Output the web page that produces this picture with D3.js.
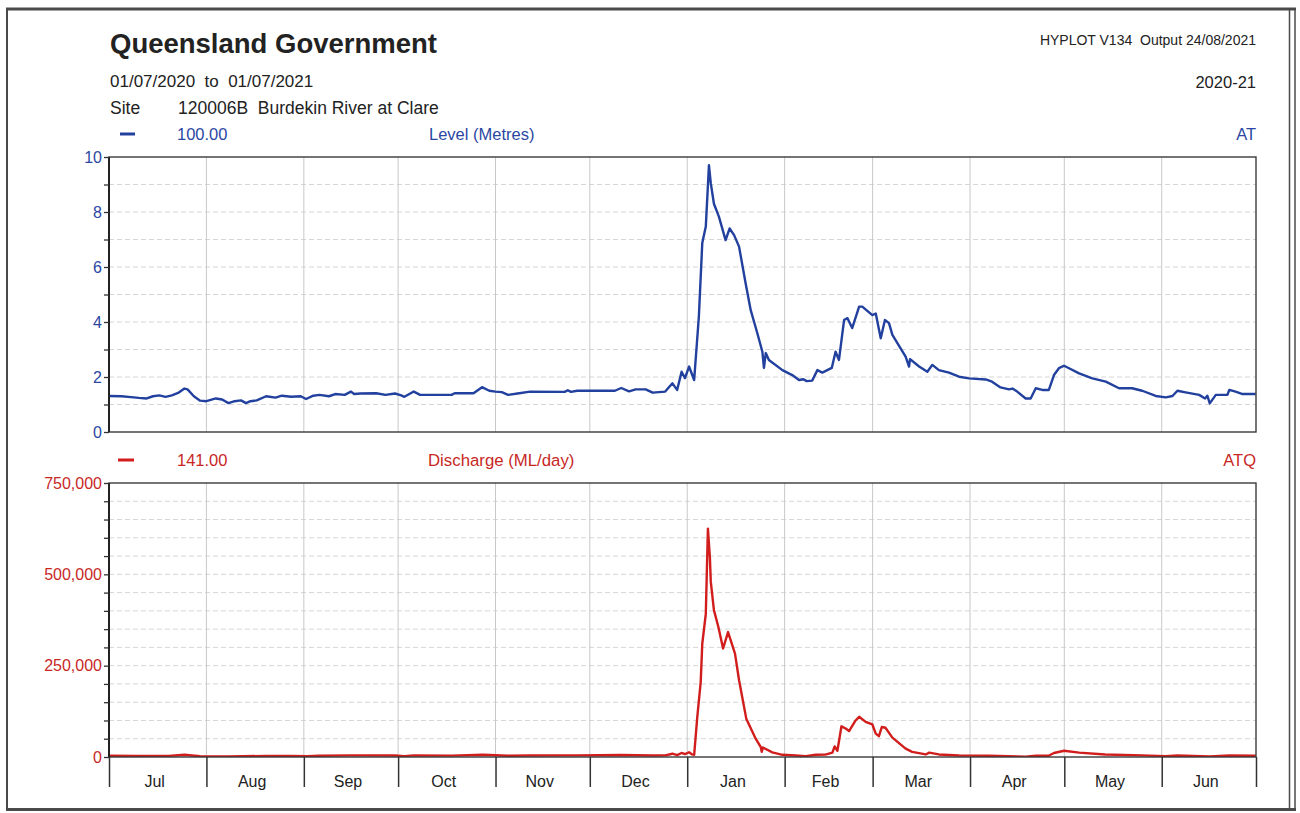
<!DOCTYPE html>
<html>
<head>
<meta charset="utf-8">
<script src="https://cdn.jsdelivr.net/npm/d3@7"></script>
<style>
  body { margin: 0; background: #fff; }
  svg { display: block; font-family: "Liberation Sans", Arial, sans-serif; }
</style>
</head>
<body>
<svg id="chart" width="1300" height="813"></svg>
<script>
// Water level at gauge 120006B (metres), [timestamp, value]
const levelReadings = [
  ["2020-07-01",1.31],["2020-07-05",1.30],["2020-07-08",1.27],["2020-07-10 12",1.24],["2020-07-13",1.22],
  ["2020-07-15",1.30],["2020-07-17",1.33],["2020-07-19",1.28],["2020-07-21",1.33],["2020-07-23",1.42],
  ["2020-07-25",1.58],["2020-07-26",1.55],["2020-07-28",1.30],["2020-07-30",1.14],
  ["2020-08-01",1.12],["2020-08-04",1.22],["2020-08-06",1.18],["2020-08-08",1.05],["2020-08-10",1.12],
  ["2020-08-12",1.15],["2020-08-13 14",1.05],["2020-08-15",1.12],["2020-08-17",1.15],["2020-08-20",1.30],
  ["2020-08-23",1.25],["2020-08-25",1.32],["2020-08-28",1.28],["2020-08-31",1.30],
  ["2020-09-01 17",1.20],["2020-09-04",1.32],["2020-09-06",1.35],["2020-09-09",1.30],["2020-09-11",1.38],
  ["2020-09-14",1.35],["2020-09-16",1.47],["2020-09-17",1.38],["2020-09-19",1.40],["2020-09-24",1.41],
  ["2020-09-27",1.35],["2020-09-30",1.40],
  ["2020-10-02",1.33],["2020-10-03",1.28],["2020-10-06",1.47],["2020-10-08",1.35],["2020-10-18",1.35],
  ["2020-10-19",1.41],["2020-10-25",1.41],["2020-10-27 17",1.63],["2020-10-30",1.50],
  ["2020-11-01",1.47],["2020-11-03",1.45],["2020-11-05",1.35],["2020-11-08",1.40],["2020-11-12",1.47],
  ["2020-11-23",1.46],["2020-11-24",1.52],["2020-11-25",1.46],["2020-11-27",1.50],
  ["2020-12-09",1.50],["2020-12-11",1.60],["2020-12-13 12",1.48],["2020-12-15 14",1.55],["2020-12-18 19",1.55],
  ["2020-12-21",1.43],["2020-12-25",1.47],["2020-12-27 07",1.77],["2020-12-28 19",1.53],["2020-12-30 05",2.19],
  ["2020-12-31 07",1.96],
  ["2021-01-01 14",2.38],["2021-01-03 05",1.89],["2021-01-04 17",4.20],["2021-01-05 19",6.87],["2021-01-06 22",7.47],
  ["2021-01-07 22",9.70],["2021-01-08 12",9.05],["2021-01-09 12",8.30],["2021-01-11 02",7.83],["2021-01-13 05",6.98],
  ["2021-01-14 12",7.40],["2021-01-15 22",7.16],["2021-01-17 12",6.74],["2021-01-19 14",5.41],["2021-01-21 05",4.43],
  ["2021-01-23 07",3.60],["2021-01-24 22",2.92],["2021-01-25 10",2.33],["2021-01-26",2.87],["2021-01-27",2.62],
  ["2021-01-31 07",2.25],
  ["2021-02-03 10",2.07],["2021-02-05 14",1.89],["2021-02-07",1.92],["2021-02-08",1.85],["2021-02-09 19",1.87],
  ["2021-02-11 10",2.25],["2021-02-13",2.16],["2021-02-16",2.33],["2021-02-17 05",2.92],["2021-02-18 07",2.62],
  ["2021-02-19 22",4.07],["2021-02-21",4.14],["2021-02-22 12",3.78],["2021-02-24 17",4.56],["2021-02-25 17",4.56],
  ["2021-02-28 22",4.25],
  ["2021-03-02",4.31],["2021-03-03 14",3.41],["2021-03-04 22",4.07],["2021-03-06 05",3.96],["2021-03-07 07",3.53],
  ["2021-03-11 12",2.74],["2021-03-12 14",2.38],["2021-03-12 22",2.65],["2021-03-15 19",2.38],["2021-03-18 10",2.19],
  ["2021-03-20",2.44],["2021-03-22 02",2.25],["2021-03-25 07",2.16],["2021-03-28 12",2.01],["2021-03-31 17",1.95],
  ["2021-04-06",1.91],["2021-04-08",1.83],["2021-04-10 17",1.62],["2021-04-13 10",1.55],["2021-04-14 12",1.58],
  ["2021-04-16",1.47],["2021-04-18 17",1.22],["2021-04-20 07",1.22],["2021-04-21 22",1.59],["2021-04-24",1.53],
  ["2021-04-26 02",1.53],["2021-04-27 17",2.07],["2021-04-29 07",2.32],["2021-04-30 22",2.41],
  ["2021-05-02 12",2.32],["2021-05-05 17",2.13],["2021-05-09 22",1.95],["2021-05-14 05",1.83],["2021-05-18 10",1.59],
  ["2021-05-22 14",1.59],["2021-05-25 19",1.50],["2021-05-30 02",1.31],
  ["2021-06-02 07",1.26],["2021-06-04 10",1.31],["2021-06-06",1.50],["2021-06-08 14",1.44],["2021-06-12 22",1.35],
  ["2021-06-14 19",1.22],["2021-06-15 12",1.32],["2021-06-16 07",1.04],["2021-06-18 05",1.35],["2021-06-21 22",1.35],
  ["2021-06-22 12",1.53],["2021-06-24 12",1.47],["2021-06-26 17",1.38],["2021-06-30 22",1.38]
];

// Discharge (ML/day), [timestamp, value]
const dischargeReadings = [
  ["2020-07-01",3500],["2020-07-10",2800],["2020-07-20",3200],["2020-07-25",6000],["2020-07-30",2200],
  ["2020-08-08",1500],["2020-08-20",3000],["2020-08-28",2800],
  ["2020-09-02",2000],["2020-09-06",3500],["2020-09-16",4500],["2020-09-30",4000],
  ["2020-10-03",2500],["2020-10-06",4500],["2020-10-18",3800],["2020-10-28",6000],
  ["2020-11-05",3600],["2020-11-12",4200],["2020-11-27",4500],
  ["2020-12-11",5500],["2020-12-21",4200],["2020-12-25",4500],["2020-12-27 07",9000],["2020-12-28 19",5000],
  ["2020-12-30 05",11000],["2020-12-31 07",8000],
  ["2021-01-01 14",13000],["2021-01-02 14",7000],["2021-01-03 05",6000],["2021-01-04 05",110000],
  ["2021-01-05 07",205000],["2021-01-05 19",310000],["2021-01-06 22",392000],["2021-01-07 14",625000],
  ["2021-01-08 05",548000],["2021-01-08 12",480000],["2021-01-09 12",402000],["2021-01-10 22",356000],
  ["2021-01-12 10",297000],["2021-01-14",342000],["2021-01-16 05",283000],["2021-01-17 12",210000],
  ["2021-01-19 19",105000],["2021-01-22 19",50000],["2021-01-24 10",27000],["2021-01-24 17",14000],
  ["2021-01-25 02",26000],["2021-01-28 02",12800],["2021-01-31 07",6000],
  ["2021-02-04 12",4000],["2021-02-07 17",2500],["2021-02-10 22",6000],["2021-02-14",6500],["2021-02-16 05",12000],
  ["2021-02-16 22",29000],["2021-02-17 19",17000],["2021-02-19 02",84000],["2021-02-20 10",78000],
  ["2021-02-21 12",71000],["2021-02-23 14",100000],["2021-02-24 17",110000],["2021-02-26 19",96000],
  ["2021-02-28 22",89000],
  ["2021-03-02",64000],["2021-03-03",57000],["2021-03-03 22",82000],["2021-03-05 02",80000],["2021-03-07 07",53000],
  ["2021-03-11 12",23000],["2021-03-13 14",14000],["2021-03-17 22",7000],["2021-03-19",12000],["2021-03-22 02",7000],
  ["2021-03-28 12",4000],
  ["2021-04-07",3500],["2021-04-18 17",1000],["2021-04-22",3500],["2021-04-26",3500],["2021-04-27 17",11000],
  ["2021-04-30 22",17000],
  ["2021-05-05 17",12000],["2021-05-14",7000],["2021-05-25 19",4500],
  ["2021-06-02 07",2500],["2021-06-06",4000],["2021-06-16 07",1500],["2021-06-22 12",4000],["2021-06-30 22",3500]
];

const monthLabels = ["Jul","Aug","Sep","Oct","Nov","Dec","Jan","Feb","Mar","Apr","May","Jun"];
const levelGridSteps = [0,1,2,3,4,5,6,7,8,9,10];
const levelTickLabels = [0,2,4,6,8,10];
const dischargeGridSteps = [0,50000,100000,150000,200000,250000,300000,350000,400000,450000,500000,550000,600000,650000,700000,750000];
const dischargeTickLabels = [0,250000,500000,750000];

const BLUE = "#22409e", BLUE_TEXT = "#2b47a3";
const RED = "#d21d1d", RED_TEXT = "#c8281f";
const INK = "#222";

const parseStamp = s => (s.length > 10 ? d3.timeParse("%Y-%m-%d %H") : d3.timeParse("%Y-%m-%d"))(s);
const levelData = levelReadings.map(([t, v]) => ({ t: parseStamp(t), v }));
const dischargeData = dischargeReadings.map(([t, v]) => ({ t: parseStamp(t), v }));

const svg = d3.select("#chart");
const start = new Date(2020, 6, 1), end = new Date(2021, 6, 1);
const x = d3.scaleTime().domain([start, end]).range([109, 1256]);
const yLevel = d3.scaleLinear().domain([0, 10]).range([432, 157]);
const yFlow = d3.scaleLinear().domain([0, 750000]).range([757, 483]);

// Page border
const page = svg.append("g").attr("fill", "none").attr("stroke", "#4a4a4a");
page.append("line").attr("x1", 6).attr("x2", 1296).attr("y1", 9).attr("y2", 9).attr("stroke-width", 3);
page.append("line").attr("x1", 7).attr("x2", 7).attr("y1", 9).attr("y2", 810).attr("stroke-width", 2);
page.append("line").attr("x1", 6).attr("x2", 1296).attr("y1", 809.5).attr("y2", 809.5).attr("stroke-width", 3);
page.append("line").attr("x1", 1289.5).attr("x2", 1289.5).attr("y1", 9).attr("y2", 810).attr("stroke-width", 1.5);
page.append("line").attr("x1", 1295).attr("x2", 1295).attr("y1", 9).attr("y2", 810).attr("stroke-width", 1.5);

// Header text
const txt = (s, xx, yy, opts = {}) => svg.append("text")
  .attr("x", xx).attr("y", yy)
  .attr("font-size", opts.size || 16)
  .attr("font-weight", opts.weight || "normal")
  .attr("fill", opts.fill || INK)
  .attr("text-anchor", opts.anchor || "start")
  .style("white-space", "pre")
  .text(s);

txt("Queensland Government", 110, 53, { size: 27.5, weight: "bold" });
txt("HYPLOT V134  Output 24/08/2021", 1256, 45, { size: 14, anchor: "end" });
txt("01/07/2020  to  01/07/2021", 110, 87, { size: 17 });
txt("2020-21", 1256, 88, { size: 16.5, anchor: "end" });
txt("Site", 110, 114, { size: 17.5 });
txt("120006B  Burdekin River at Clare", 178, 114, { size: 17.5 });

// Series legend rows
svg.append("line").attr("x1", 120).attr("x2", 135).attr("y1", 134).attr("y2", 134)
  .attr("stroke", BLUE).attr("stroke-width", 3);
txt("100.00", 177, 140, { size: 16.5, fill: BLUE_TEXT });
txt("Level (Metres)", 429, 140, { size: 16.5, fill: BLUE_TEXT });
txt("AT", 1256, 140, { size: 16.5, fill: BLUE_TEXT, anchor: "end" });

svg.append("line").attr("x1", 118).attr("x2", 134).attr("y1", 460).attr("y2", 460)
  .attr("stroke", RED).attr("stroke-width", 3);
txt("141.00", 177, 466, { size: 16.5, fill: RED_TEXT });
txt("Discharge (ML/day)", 428, 466, { size: 16.8, fill: RED_TEXT });
txt("ATQ", 1256, 466, { size: 16.5, fill: RED_TEXT, anchor: "end" });

const monthStarts = d3.timeMonth.range(start, d3.timeDay.offset(end, 1));

function panel(y, gridSteps, tickLabels, fmt, labelColor, data, lineColor, clipId) {
  const [y0, y1] = y.range();
  const g = svg.append("g");
  // horizontal dashed grid
  g.append("g").selectAll("line").data(gridSteps.filter(v => v > y.domain()[0] && v < y.domain()[1]))
    .join("line")
    .attr("x1", x.range()[0]).attr("x2", x.range()[1])
    .attr("y1", d => y(d)).attr("y2", d => y(d))
    .attr("stroke", "#d6d6d6").attr("stroke-width", 1).attr("stroke-dasharray", "5,3");
  // vertical month grid
  g.append("g").selectAll("line").data(monthStarts.slice(1, -1))
    .join("line")
    .attr("x1", d => x(d)).attr("x2", d => x(d))
    .attr("y1", y1).attr("y2", y0)
    .attr("stroke", "#c8c8c8").attr("stroke-width", 1);

  // series line
  svg.append("clipPath").attr("id", clipId).append("rect")
    .attr("x", x.range()[0]).attr("y", y1).attr("width", x.range()[1] - x.range()[0]).attr("height", y0 - y1);
  g.append("path").datum(data)
    .attr("clip-path", `url(#${clipId})`)
    .attr("fill", "none").attr("stroke", lineColor).attr("stroke-width", 2.4)
    .attr("stroke-linejoin", "round")
    .attr("d", d3.line().x(d => x(d.t)).y(d => y(d.v)));

  // frame
  g.append("rect").attr("x", x.range()[0]).attr("y", y1)
    .attr("width", x.range()[1] - x.range()[0]).attr("height", y0 - y1)
    .attr("fill", "none").attr("stroke", "#3a3a3a").attr("stroke-width", 1.4);
  g.append("line").attr("x1", x.range()[0]).attr("x2", x.range()[0]).attr("y1", y1).attr("y2", y0)
    .attr("stroke", "#222").attr("stroke-width", 2);

  // left axis
  const axis = d3.axisLeft(y).tickValues(gridSteps).tickSize(5).tickPadding(2)
    .tickFormat(d => tickLabels.includes(d) ? fmt(d) : "");
  const ag = g.append("g").attr("transform", `translate(${x.range()[0]},0)`).call(axis);
  ag.select(".domain").remove();
  ag.selectAll(".tick line").attr("stroke", "#333").attr("stroke-width", 1.3);
  ag.selectAll(".tick text").attr("fill", labelColor).attr("font-size", 16)
    .attr("font-family", '"Liberation Sans", Arial, sans-serif');
  return g;
}

panel(yLevel, levelGridSteps, levelTickLabels, d => String(d), BLUE_TEXT, levelData, BLUE, "clipLevel");
panel(yFlow, dischargeGridSteps, dischargeTickLabels, d3.format(","), RED_TEXT, dischargeData, RED, "clipFlow");

// Month axis below the discharge panel
const xAxis = d3.axisBottom(x).tickValues(monthStarts).tickSize(30).tickFormat("");
const xg = svg.append("g").attr("transform", `translate(0,${yFlow.range()[0]})`).call(xAxis);
xg.select(".domain").remove();
xg.selectAll(".tick line").attr("stroke", "#333").attr("stroke-width", 1.5);

svg.append("g").selectAll("text").data(monthStarts.slice(0, 12))
  .join("text")
  .attr("x", (d, i) => (x(d) + x(monthStarts[i + 1])) / 2 - 3)
  .attr("y", 787)
  .attr("text-anchor", "middle")
  .attr("font-size", 16)
  .attr("fill", INK)
  .text((d, i) => monthLabels[i]);
</script>
</body>
</html>
